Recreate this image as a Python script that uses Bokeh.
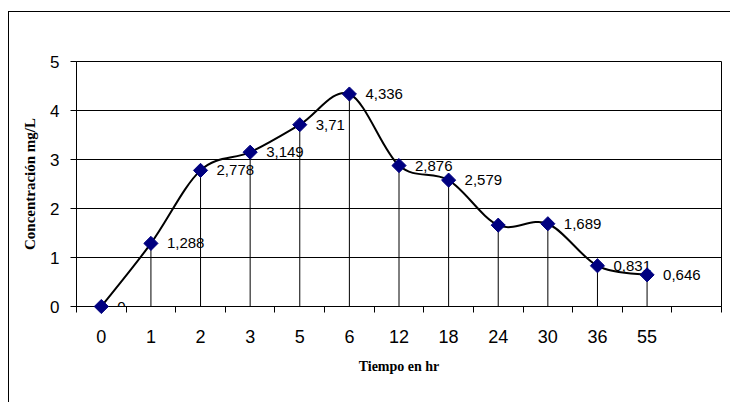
import numpy as np
from bokeh.plotting import figure
from bokeh.models import Range1d, FixedTicker, ColumnDataSource, LabelSet
from bokeh.core.properties import value
from bokeh.embed import file_html
from bokeh.resources import INLINE

# ---- data ----
times = ["0", "1", "2", "3", "5", "6", "12", "18", "24", "30", "36", "55"]
conc = [0, 1.288, 2.778, 3.149, 3.71, 4.336, 2.876, 2.579, 1.66, 1.689, 0.831, 0.646]
point_labels = ["0", "1,288", "2,778", "3,149", "3,71", "4,336", "2,876", "2,579", "", "1,689", "0,831", "0,646"]
y_ticks = [0, 1, 2, 3, 4, 5]
n_slots = len(times) + 1  # one empty category slot at the end

xc = [i + 0.5 for i in range(len(times))]

SANS = "Liberation Sans"
SERIF = "Liberation Serif"

p = figure(width=722, height=391,
           x_range=Range1d(0, n_slots), y_range=Range1d(0, 5),
           output_backend="svg", toolbar_location=None,
           min_border_left=67, min_border_right=10,
           min_border_top=49, min_border_bottom=97)
p.margin = (11, 0, 0, 8)
p.styles = {"border-left": "1px solid black", "border-top": "1px solid black"}
p.background_fill_color = "white"
p.border_fill_color = "white"
p.outline_line_color = "black"
p.outline_line_width = 1

# x axis
xa = p.xaxis[0]
xa.ticker = FixedTicker(ticks=xc, minor_ticks=list(range(n_slots + 1)))
xa.major_label_overrides = {v: t for v, t in zip(xc, times)}
xa.major_tick_line_color = None
xa.major_tick_in = 0
xa.major_tick_out = 6
xa.minor_tick_in = 0
xa.minor_tick_out = 6
xa.minor_tick_line_color = "black"
xa.axis_line_color = "black"
xa.major_label_text_font = SANS
xa.major_label_text_font_size = "18px"
xa.major_label_text_color = "black"
xa.major_label_standoff = 17
xa.axis_label = "Tiempo en hr"
xa.axis_label_text_font = SERIF
xa.axis_label_text_font_style = "bold"
xa.axis_label_text_font_size = "14px"
xa.axis_label_text_color = "black"
xa.axis_label_standoff = 13

# y axis
ya = p.yaxis[0]
ya.ticker = FixedTicker(ticks=y_ticks, minor_ticks=[])
ya.major_tick_in = 0
ya.major_tick_out = 6
ya.major_tick_line_color = "black"
ya.minor_tick_line_color = None
ya.axis_line_color = "black"
ya.major_label_text_font = SANS
ya.major_label_text_font_size = "17px"
ya.major_label_text_color = "black"
ya.major_label_standoff = 11
ya.axis_label = "Concentración mg/L"
ya.axis_label_text_font = SERIF
ya.axis_label_text_font_style = "bold"
ya.axis_label_text_font_size = "15px"
ya.axis_label_text_color = "black"
ya.axis_label_standoff = 9

p.xgrid.grid_line_color = None
p.ygrid.ticker = FixedTicker(ticks=y_ticks)
p.ygrid.grid_line_color = "black"
p.ygrid.grid_line_alpha = 1.0

# drop lines
p.segment(x0=xc, y0=[0] * len(xc), x1=xc, y1=conc, line_color="black", line_width=1)

# smoothed line (Catmull-Rom style Bezier through the data points)
P = np.column_stack([xc, conc]).astype(float)
n = len(P)
bx0, by0, bx1, by1, bcx0, bcy0, bcx1, bcy1 = [], [], [], [], [], [], [], []
for i in range(n - 1):
    prv = P[max(i - 1, 0)]
    nxt = P[min(i + 2, n - 1)]
    c0 = P[i] + (P[i + 1] - prv) / 6.0
    c1 = P[i + 1] - (nxt - P[i]) / 6.0
    bx0.append(P[i][0]); by0.append(P[i][1])
    bx1.append(P[i + 1][0]); by1.append(P[i + 1][1])
    bcx0.append(c0[0]); bcy0.append(c0[1])
    bcx1.append(c1[0]); bcy1.append(c1[1])
p.bezier(x0=bx0, y0=by0, x1=bx1, y1=by1, cx0=bcx0, cy0=bcy0, cx1=bcx1, cy1=bcy1,
         line_color="black", line_width=2)

# markers
p.scatter(xc, conc, marker="square", size=10, angle=np.pi / 4,
          fill_color="#000080", line_color="#000080", level="overlay")

# data labels
src = ColumnDataSource(dict(x=xc, y=conc, lbl=point_labels))
p.add_layout(LabelSet(x="x", y="y", text="lbl", source=src, x_offset=16,
                      text_baseline="middle", text_align="left",
                      text_font=value(SANS), text_font_size=value("15px"),
                      text_color="black"))

open("out.html", "w").write(file_html(p, INLINE))
